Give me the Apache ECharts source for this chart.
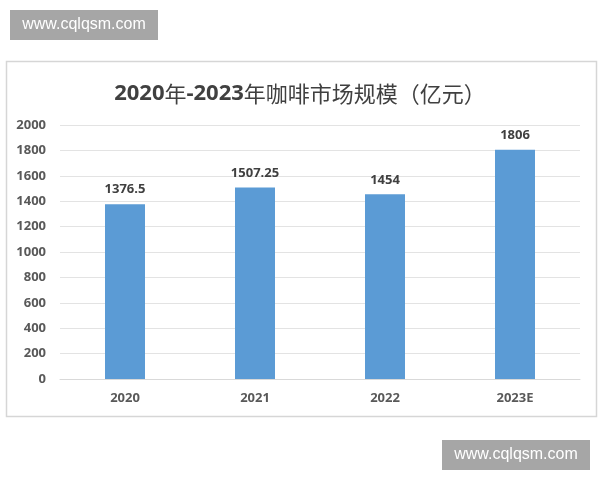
<!DOCTYPE html>
<html>
<head>
<meta charset="utf-8">
<script src="https://cdn.jsdelivr.net/npm/echarts@6/dist/echarts.min.js"></script>
<style>
html,body{margin:0;padding:0;background:#fff;}
#main{width:600px;height:480px;}
</style>
</head>
<body>
<div id="main"></div>
<script>
var categories = ['2020', '2021', '2022', '2023E'];
var marketSize = [1376.5, 1507.25, 1454, 1806];
var yTicks = { min: 0, max: 2000, interval: 200 };
var titleParts = [['2020', 'b'], ['年', 'c'], ['-2023', 'b'], ['年咖啡市场规模（亿元）', 'c']];
var watermark = 'www.cqlqsm.com';

var titleRich = titleParts.map(function (p) { return '{' + p[1] + '|' + p[0] + '}'; }).join('');

var chart = echarts.init(document.getElementById('main'));
chart.setOption({
  backgroundColor: '#ffffff',
  animation: false,
  title: {
    text: titleRich,
    left: 'center',
    top: 78,
    textStyle: {
      rich: {
        b: { fontFamily: '"Open Sans", "Noto Sans", sans-serif', fontSize: 22, fontWeight: 'bold', color: '#404040' },
        c: { fontFamily: '"Noto Sans CJK SC", sans-serif', fontSize: 22, fontWeight: 'normal', color: '#404040' }
      }
    }
  },
  graphic: [
    {
      type: 'rect',
      z: -1,
      shape: { x: 6.5, y: 61.5, width: 590, height: 355 },
      style: { fill: '#ffffff', stroke: '#d6d6d6', lineWidth: 1.5 }
    },
    {
      type: 'group',
      left: 10, top: 10,
      children: [
        { type: 'rect', shape: { x: 0, y: 0, width: 148, height: 30 }, style: { fill: '#a6a6a6' } },
        { type: 'text', x: 74, y: 15, style: { text: watermark, fill: '#ffffff', font: '16px "Liberation Sans", Arial, sans-serif', textAlign: 'center', textVerticalAlign: 'middle' } }
      ]
    },
    {
      type: 'group',
      left: 442, top: 440,
      children: [
        { type: 'rect', shape: { x: 0, y: 0, width: 148, height: 30 }, style: { fill: '#a6a6a6' } },
        { type: 'text', x: 74, y: 15, style: { text: watermark, fill: '#ffffff', font: '16px "Liberation Sans", Arial, sans-serif', textAlign: 'center', textVerticalAlign: 'middle' } }
      ]
    }
  ],
  grid: { left: 60, right: 20, top: 125, bottom: 101, containLabel: false },
  xAxis: {
    type: 'category',
    data: categories,
    axisTick: { show: false },
    axisLine: { show: true, lineStyle: { color: '#d9d9d9', width: 1 } },
    axisLabel: {
      margin: 13,
      fontSize: 13,
      fontWeight: 'bold',
      color: '#595959',
      fontFamily: '"Open Sans", "Noto Sans", sans-serif'
    }
  },
  yAxis: {
    type: 'value',
    min: yTicks.min,
    max: yTicks.max,
    interval: yTicks.interval,
    axisLine: { show: false },
    axisTick: { show: false },
    splitLine: { lineStyle: { color: '#e3e3e3', width: 1 } },
    axisLabel: {
      margin: 14,
      fontSize: 13,
      fontWeight: 'bold',
      color: '#595959',
      fontFamily: '"Open Sans", "Noto Sans", sans-serif',
      formatter: function (v) { return String(v); }
    }
  },
  series: [{
    type: 'bar',
    data: marketSize,
    barWidth: 40,
    itemStyle: { color: '#5b9bd5' },
    label: {
      show: true,
      position: 'top',
      distance: 8,
      fontSize: 13,
      fontWeight: 'bold',
      color: '#404040',
      fontFamily: '"Open Sans", "Noto Sans", sans-serif'
    }
  }]
});
</script>
</body>
</html>
